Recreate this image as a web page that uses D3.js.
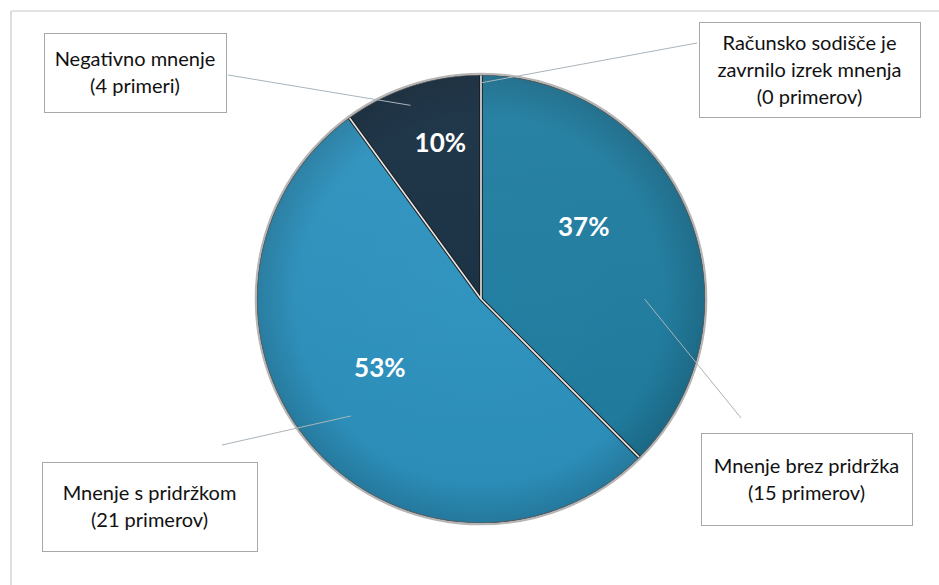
<!DOCTYPE html>
<html><head><meta charset="utf-8">
<script src="https://cdn.jsdelivr.net/npm/d3@7"></script>
<style>body{margin:0;background:#fff}svg{display:block}</style>
</head><body>
<script>
// ---- data ----
const categories = ["Mnenje brez pridržka", "Mnenje s pridržkom", "Negativno mnenje", "Računsko sodišče je zavrnilo izrek mnenja"];
const counts = [15, 21, 4, 0];
const percentLabels = ["37%", "53%", "10%", ""];
const calloutLines = [
  ["Mnenje brez pridržka", "(15 primerov)"],
  ["Mnenje s pridržkom", "(21 primerov)"],
  ["Negativno mnenje", "(4 primeri)"],
  ["Računsko sodišče je", "zavrnilo izrek mnenja", "(0 primerov)"]
];
const colors = ["#1f7fa3", "#2d95c2", "#172f43", "#172f43"];

// ---- layout ----
const W = 939, H = 585;
const cx = 481, cy = 299, R = 224;
const boxes = [
  {x: 701, y: 433, w: 211, h: 92},
  {x: 42, y: 462, w: 215, h: 89},
  {x: 44, y: 33, w: 182, h: 79},
  {x: 699, y: 22, w: 221, h: 95}
];
const leaders = [
  {x: 741, y: 418, dAng: 22.5, rf: 0.73},
  {x: 222, y: 445, dAng: -1.5, rf: 0.78},
  {x: 228, y: 75, dAng: -2, rf: 0.92},
  {x: 697, y: 43, dAng: 0, rf: 0.965}
];
const labelNudge = [-12.5, 6.5, 3.4, 0];
const labelRf = [0.56, 0.545, 0.72, 0];

const svg = d3.select("body").append("svg").attr("width", W).attr("height", H);
const defs = svg.append("defs");
const rg = defs.append("radialGradient").attr("id", "shade")
  .attr("cx", "50%").attr("cy", "50%").attr("r", "50%");
rg.append("stop").attr("offset", "0%").attr("stop-color", "#000").attr("stop-opacity", 0);
rg.append("stop").attr("offset", "82%").attr("stop-color", "#000").attr("stop-opacity", 0.02);
rg.append("stop").attr("offset", "100%").attr("stop-color", "#000").attr("stop-opacity", 0.16);
const lg = defs.append("linearGradient").attr("id", "gloss").attr("x1", 0).attr("y1", 0).attr("x2", 0).attr("y2", 1);
lg.append("stop").attr("offset", "0%").attr("stop-color", "#fff").attr("stop-opacity", 0.05);
lg.append("stop").attr("offset", "100%").attr("stop-color", "#000").attr("stop-opacity", 0.04);

// outer frame (left & top edges visible)
svg.append("line").attr("x1", 11).attr("y1", 11).attr("x2", 939).attr("y2", 11)
  .attr("stroke", "#c8c8c8").attr("stroke-width", 1.2);
svg.append("line").attr("x1", 11).attr("y1", 11).attr("x2", 11).attr("y2", 585)
  .attr("stroke", "#c8c8c8").attr("stroke-width", 1.2);

const pie = d3.pie().sort(null).value(d => d)(counts);
const arc = d3.arc().innerRadius(0).outerRadius(R);
const g = svg.append("g").attr("transform", `translate(${cx},${cy})`);

g.selectAll("path.slice").data(pie).join("path").attr("class", "slice")
  .attr("d", arc).attr("fill", (d, i) => colors[i]);
g.append("circle").attr("r", R).attr("fill", "url(#shade)");
g.append("circle").attr("r", R).attr("fill", "url(#gloss)");
// separators: dark edge + light core
const seps = pie.filter(d => d.value > 0);
g.selectAll("line.sepd").data(seps).join("line").attr("class", "sepd")
  .attr("x1", 0).attr("y1", 0)
  .attr("x2", d => R * Math.sin(d.startAngle)).attr("y2", d => -R * Math.cos(d.startAngle))
  .attr("stroke", "#1c1c1c").attr("stroke-width", 3.6);
g.selectAll("line.sepl").data(seps).join("line").attr("class", "sepl")
  .attr("x1", 0).attr("y1", 0)
  .attr("x2", d => R * Math.sin(d.startAngle)).attr("y2", d => -R * Math.cos(d.startAngle))
  .attr("stroke", "#e8e8e8").attr("stroke-width", 1.6);
// rim
g.append("circle").attr("r", R).attr("fill", "none").attr("stroke", "#555").attr("stroke-width", 1.2);
g.append("circle").attr("r", R + 1.3).attr("fill", "none").attr("stroke", "#b5b5b5").attr("stroke-width", 2);

// percent labels
g.selectAll("text.pct").data(pie).join("text").attr("class", "pct")
  .attr("transform", (d, i) => {
    const a = (d.startAngle + d.endAngle) / 2 + labelNudge[i] * Math.PI / 180;
    const r = R * labelRf[i];
    return `translate(${r * Math.sin(a)},${-r * Math.cos(a)})`;
  })
  .attr("text-anchor", "middle").attr("dy", "0.36em")
  .attr("font-family", "Lato, 'Open Sans', sans-serif").attr("font-weight", "bold")
  .attr("font-size", 26).attr("fill", "#fff")
  .text((d, i) => percentLabels[i]);

// leader lines
g.selectAll("line.lead").data(pie).join("line").attr("class", "lead")
  .attr("x1", (d, i) => leaders[i].x - cx).attr("y1", (d, i) => leaders[i].y - cy)
  .attr("x2", (d, i) => { const a = (d.startAngle + d.endAngle) / 2 + leaders[i].dAng * Math.PI / 180; return R * leaders[i].rf * Math.sin(a); })
  .attr("y2", (d, i) => { const a = (d.startAngle + d.endAngle) / 2 + leaders[i].dAng * Math.PI / 180; return -R * leaders[i].rf * Math.cos(a); })
  .attr("stroke", "#a9b4bb").attr("stroke-width", 1);

// callout boxes
const cb = svg.selectAll("g.callout").data(categories).join("g").attr("class", "callout");
cb.append("rect")
  .attr("x", (d, i) => boxes[i].x + 0.5).attr("y", (d, i) => boxes[i].y + 0.5)
  .attr("width", (d, i) => boxes[i].w).attr("height", (d, i) => boxes[i].h)
  .attr("fill", "#fff").attr("stroke", "#a8a8a8").attr("stroke-width", 1);
cb.each(function(d, i) {
  const b = boxes[i], lines = calloutLines[i], lh = 27;
  const t = d3.select(this).append("text").attr("text-anchor", "middle")
    .attr("font-family", "Lato, 'Open Sans', sans-serif").attr("font-size", 20).attr("fill", "#111");
  lines.forEach((ln, k) => {
    t.append("tspan").attr("x", b.x + b.w / 2)
      .attr("y", b.y + b.h / 2 + (k - (lines.length - 1) / 2) * lh)
      .attr("dy", "0.35em").text(ln);
  });
});
</script>
</body></html>
